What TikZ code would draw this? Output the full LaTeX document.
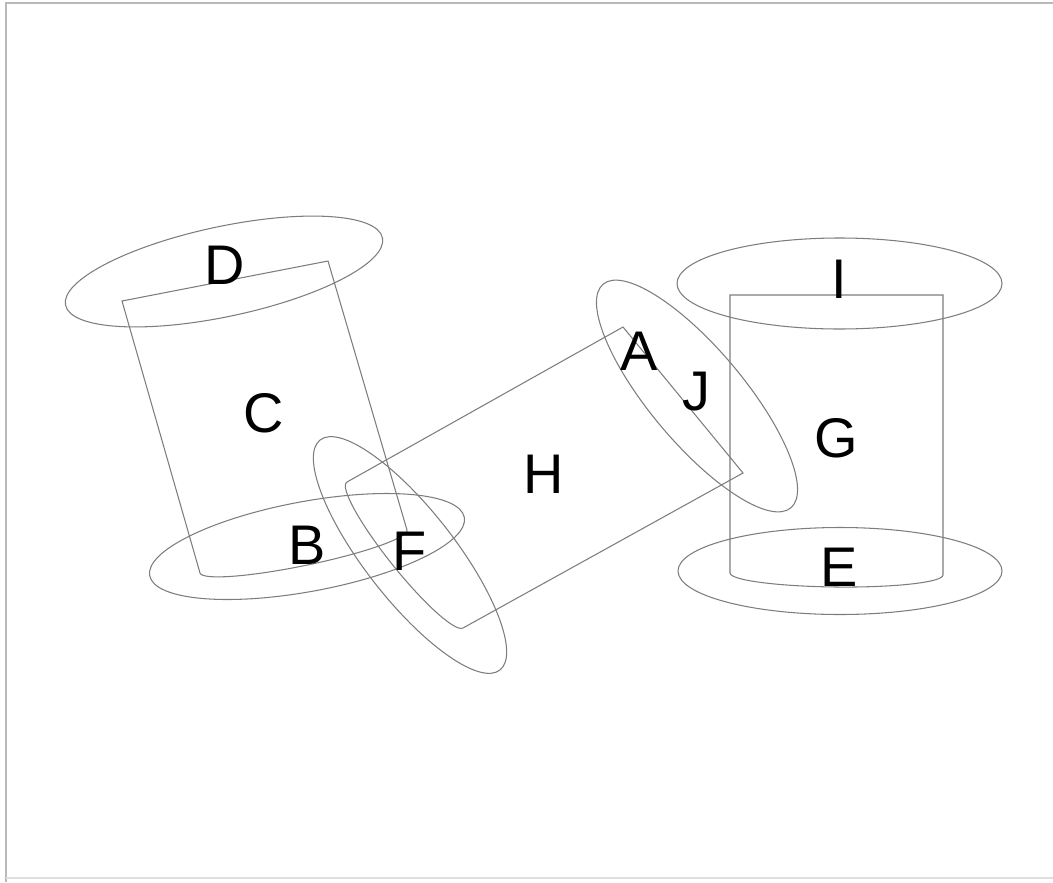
\documentclass[tikz,border=0pt]{standalone}
\usepackage{fontspec}
\setmainfont{Liberation Sans}
\definecolor{rim}{RGB}{125,125,125}
\definecolor{edge}{RGB}{185,185,185}

\tikzset{
  spool/.style={draw=rim,line width=0.6pt},
  tag/.style={inner sep=0pt,font=\fontsize{31.8}{34}\selectfont},
}

\begin{document}
\begin{tikzpicture}[x=0.02cm,y=-0.02cm]
\useasboundingbox (0,0) rectangle (1053,882);

% frame
\draw[edge,line width=1.4pt] (6,882) -- (6,3) -- (1053,3);
\draw[edge!45,line width=0.8pt] (6,878) -- (1053,878);

% bodies: straight top, curved bottom
\draw[spool] (122,301) -- (328,261) -- (407,530)
  .. controls +(2.1,7.4) and +(57.2,-11.9) .. (307.4,565)
  .. controls +(-57.2,11.9) and +(2.1,7.4) .. (200,573) -- cycle;
\draw[spool] (623,327) -- (743,473) -- (463,628)
  .. controls +(-7.7,4.3) and +(32,40.3) .. (391,562.8)
  .. controls +(-32,-40.3) and +(-7.7,4.3) .. (347,482) -- cycle;
\draw[spool] (730,295) -- (943,295) -- (943,575)
  .. controls +(0,7.2) and +(58.8,0.6) .. (836.5,587)
  .. controls +(-58.8,-0.6) and +(0,7.2) .. (730,573) -- cycle;

% end rims
\foreach \x/\y/\a/\b/\r in {
   224/271.5/162/45/12,
   307/546.5/160/45/10.5,
   839.5/283.5/162.5/45.5/0,
   840/571/162/43.5/0,
   410/555/146/45/-52,
   697/396/146/47/-50}{
  \draw[spool,rotate around={\r:(\x,\y)}] (\x,\y)
    ellipse[x radius=\a,y radius=\b];
}

% labels
\foreach \n/\x/\y in {D/224.7/265, C/263.7/413, B/306.7/545, F/409.5/551.7,
    H/543.7/474, A/639.5/351.7, J/696/392, G/836/438, I/839.5/279, E/839/567}{
  \node[tag] (l\n) at (\x,\y) {\n};
}

\end{tikzpicture}
\end{document}
